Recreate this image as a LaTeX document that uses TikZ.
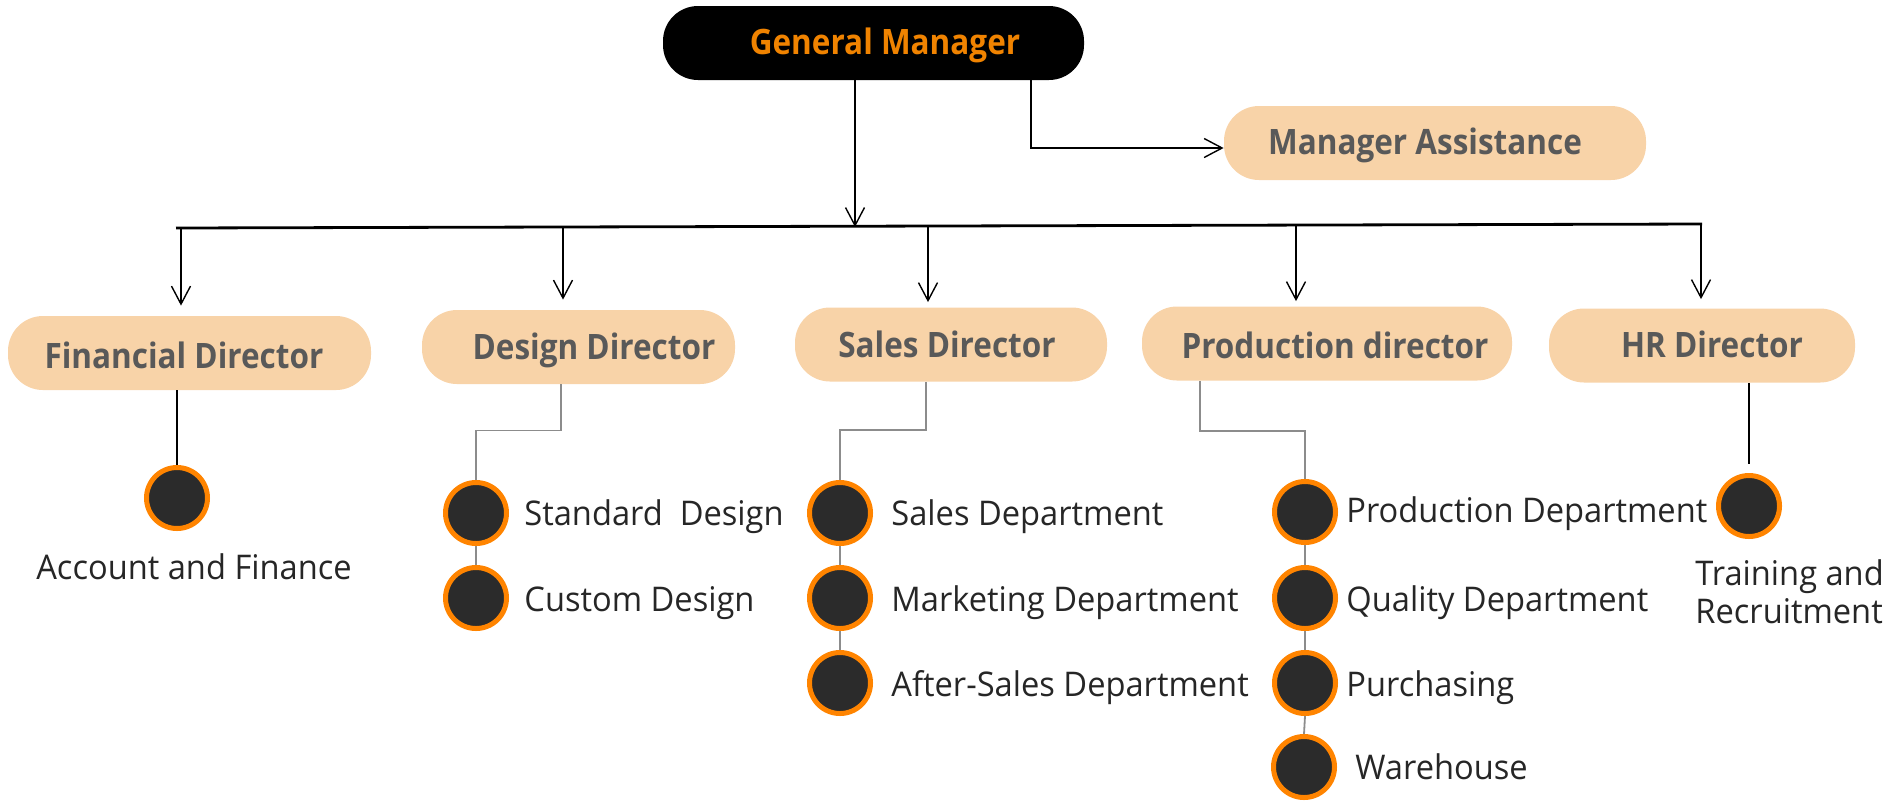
\documentclass[tikz,border=0pt]{standalone}
\usepackage{fontspec}
\setmainfont{Open Sans}[FakeStretch=0.96]
\newfontfamily\hdfont{Open Sans}[FakeStretch=0.9]
\usetikzlibrary{arrows.meta}
\definecolor{peach}{HTML}{F8D3A8}
\definecolor{dgray}{HTML}{595959}
\definecolor{gmorange}{HTML}{F08300}
\definecolor{cfill}{HTML}{2B2B2B}
\definecolor{cring}{HTML}{FF8400}
\definecolor{lgray}{HTML}{8C8C8C}
\definecolor{txt}{HTML}{262626}
\tikzset{
  pill/.style={draw=none, fill=peach, rounded corners=17.5pt, minimum height=37pt, inner sep=0pt},
  hd/.style={font=\hdfont\bfseries\fontsize{17.5pt}{20pt}\selectfont, text=dgray, inner sep=0pt, anchor=base},
  dot/.style={circle, draw=cring, fill=cfill, line width=2.5pt, minimum size=30.5pt, inner sep=0pt},
  lbl/.style={font=\fontsize{17pt}{20pt}\selectfont, text=txt, inner sep=0pt, anchor=base west},
  arr/.style={draw=black, line width=0.7pt, -{Straight Barb[length=9pt,width=9.5pt,line width=0.7pt]}},
  bline/.style={draw=black, line width=0.8pt},
  gline/.style={draw=lgray, line width=0.9pt}
}
\begin{document}
\begin{tikzpicture}[x=0.5pt,y=-0.5pt]
\useasboundingbox (0,0) rectangle (1889,800);

% boxes
\node[pill, fill=black, minimum width=210.5pt] (gm) at (873.5,43) {};
\node[pill, minimum width=211pt] (ma) at (1435,143) {};
\node[pill, minimum width=181.5pt] (fin) at (189.5,353) {};
\node[pill, minimum width=156.5pt] (des) at (578.5,347) {};
\node[pill, minimum width=156pt] (sal) at (951,344.5) {};
\node[pill, minimum width=185pt] (pro) at (1327,343.5) {};
\node[pill, minimum width=153pt] (hr) at (1702,345.5) {};

% box texts
\node[hd, text=gmorange] (gmt) at (885,54) {General Manager};
\node[hd] (mat) at (1425,154) {Manager Assistance};
\node[hd] (fint) at (184,368) {Financial Director};
\node[hd] (dest) at (594,359) {Design Director};
\node[hd] (salt) at (947,357) {Sales Director};
\node[hd] (prot) at (1335,358) {Production director};
\node[hd] (hrt) at (1712,357) {HR Director};

% bar and arrows
\coordinate (barL) at (176,228);
\coordinate (barR) at (1702,224);
\draw[draw=black, line width=1.4pt] (barL) -- (barR);
\coordinate (g0) at (855,227);
\draw[arr] (g0 |- gm.south) -- (g0);
\coordinate (m0) at (1031,148);
\draw[arr] (m0 |- gm.south) -- (m0) -- (m0 -| ma.west);

\coordinate (d1) at (181,228);
\coordinate (d2) at (563,227);
\coordinate (d3) at (928,226);
\coordinate (d4) at (1296,225);
\coordinate (d5) at (1701,224);
\draw[arr, shorten >=5pt] (d1) -- (d1 |- fin.north);
\draw[arr, shorten >=5pt] (d2) -- (d2 |- des.north);
\draw[arr, shorten >=2.5pt] (d3) -- (d3 |- sal.north);
\draw[arr, shorten >=2.5pt] (d4) -- (d4 |- pro.north);
\draw[arr, shorten >=4.5pt] (d5) -- (d5 |- hr.north);

% dots
\node[dot] (a1) at (177,498) {};
\node[dot] (s1) at (476,513) {};
\node[dot] (s2) at (476,598) {};
\node[dot] (t1) at (840,513) {};
\node[dot] (t2) at (840,598) {};
\node[dot] (t3) at (840,683) {};
\node[dot] (p1) at (1305,512) {};
\node[dot] (p2) at (1305,598) {};
\node[dot] (p3) at (1305,683) {};
\node[dot] (p4) at (1304,767) {};
\node[dot] (h1) at (1749,506) {};

% director connectors
\draw[bline] (a1.north |- fin.south) -- (a1.north);
\coordinate (ds0) at (561,0);
\draw[gline] (ds0 |- des.south) -- ++(0,46) -| (s1.north);
\coordinate (ss0) at (926,0);
\draw[gline] (ss0 |- sal.south) -- ++(0,48) -| (t1.north);
\coordinate (ps0) at (1200,0);
\draw[gline] (ps0 |- pro.south) -- ++(0,50) -| (p1.north);
\draw[bline, shorten >=4.5pt] (h1.north |- hr.south) -- (h1.north);

% chains
\draw[gline] (s1.south) -- (s2.north);
\draw[gline] (t1.south) -- (t2.north);
\draw[gline] (t2.south) -- (t3.north);
\draw[gline] (p1.south) -- (p2.north);
\draw[gline] (p2.south) -- (p3.north);
\draw[gline] (p3.south) -- (p4.north);

% labels
\node[lbl, anchor=base] (la1) at (194,579) {Account and Finance};
\node[lbl] (ls1) at (524,525) {Standard\ \ Design};
\node[lbl] (ls2) at (524,611) {Custom Design};
\node[lbl] (lt1) at (891,525) {Sales Department};
\node[lbl] (lt2) at (891,611) {Marketing Department};
\node[lbl] (lt3) at (891,696) {After-Sales Department};
\node[lbl] (lp1) at (1346,522) {Production Department};
\node[lbl] (lp2) at (1346,611) {Quality Department};
\node[lbl] (lp3) at (1346,696) {Purchasing};
\node[lbl] (lp4) at (1355,779) {Warehouse};
\node[lbl] (lh1) at (1695,585) {Training and};
\node[lbl] (lh2) at (1695,623) {Recruitment};
\end{tikzpicture}
\end{document}
